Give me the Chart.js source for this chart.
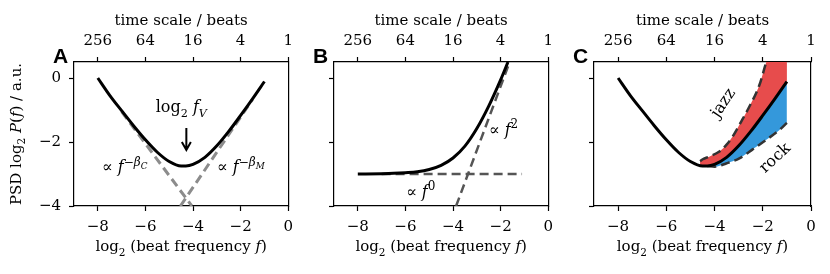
<!DOCTYPE html>
<html>
<head>
<meta charset="utf-8">
<script src="https://cdn.jsdelivr.net/npm/chart.js@4/dist/chart.umd.min.js"></script>
<style>
html, body { margin: 0; padding: 0; background: #fff; }
#wrap { position: relative; width: 830px; height: 274px; }
.panel { position: absolute; top: 0; height: 274px; }
</style>
</head>
<body>
<div id="wrap">
  <div class="panel" style="left:0;width:300px"><canvas id="chartA"></canvas></div>
  <div class="panel" style="left:300px;width:260px"><canvas id="chartB"></canvas></div>
  <div class="panel" style="left:560px;width:270px"><canvas id="chartC"></canvas></div>
</div>
<script>
// axes (x = log2 of beat frequency)
const xTicks = [-8, -6, -4, -2, 0]
const yTicks = [-4, -2, 0]
const beatLabels = ['256', '64', '16', '4', '1']

// panel A (and C): PSD with a minimum at f_V
const freqV = [-8, -7.5, -7, -6.5, -6, -5.5, -5, -4.5, -4.3, -4, -3.5, -3, -2.5, -2, -1.5, -1]
const psdV = [0, -0.54, -1.02, -1.49, -1.93, -2.32, -2.61, -2.75, -2.75, -2.70, -2.48, -2.12, -1.67, -1.17, -0.65, -0.11]
const lowAsymX = [-7, -4.05]
const lowAsymY = [-1.05, -4]
const highAsymX = [-4.53, -1.5]
const highAsymY = [-4, -0.67]

// panel B: flat then f^2
const freqB = [-8, -7, -6.5, -6, -5.5, -5, -4.5, -4, -3.5, -3, -2.5, -2, -1.69]
const psdB = [-3, -2.99, -2.98, -2.96, -2.93, -2.86, -2.73, -2.50, -2.13, -1.58, -0.88, -0.06, 0.5]
const flatX = [-7, -1.1]
const flatY = [-3, -3]
const steepX = [-3.87, -1.62]
const steepY = [-4, 0.5]

// panel C: jazz / rock variants
const jazzX = [-4.6, -4.49, -4.2, -3.8, -3.5, -3.25, -2.9, -2.56, -2.14, -1.87, -1.5, -1]
const jazzY = [-2.6, -2.54, -2.45, -2.3, -2.08, -1.83, -1.37, -0.9, -0.22, 0.46, 1.3, 2.5]
const rockX = [-4.3, -4, -3.52, -2.97, -2.42, -1.87, -1.32, -1]
const rockY = [-2.75, -2.77, -2.67, -2.51, -2.23, -1.94, -1.63, -1.4]

Chart.defaults.font.family = 'DejaVu Serif'
Chart.defaults.color = '#000'

const serif = { family: 'DejaVu Serif', size: 15 }
const minus = v => String(v).replace('-', '\u2212')
const pts = (xs, ys) => xs.map((x, i) => ({ x: x, y: ys[i] }))

function scalesFor(leftW, rightW, showY) {
  const grid = { drawOnChartArea: false, tickLength: 5, tickColor: '#000', tickWidth: 1.2 }
  const border = { color: '#000', width: 1.2 }
  return {
    x: {
      type: 'linear', position: 'bottom', min: -9, max: 0,
      afterBuildTicks: s => { s.ticks = xTicks.map(v => ({ value: v })) },
      afterFit: s => { s.height = 68 },
      ticks: { font: serif, color: '#000', padding: 7, maxRotation: 0, callback: v => minus(v) },
      grid: grid, border: border
    },
    x2: {
      type: 'linear', position: 'top', min: -9, max: 0,
      afterBuildTicks: s => { s.ticks = xTicks.map(v => ({ value: v })) },
      afterFit: s => { s.height = 62 },
      ticks: { font: serif, color: '#000', padding: 7, maxRotation: 0, callback: (v, i) => beatLabels[i] },
      title: { display: true, text: 'time scale / beats', font: serif, color: '#000', padding: { top: 12, bottom: 0 } },
      grid: grid, border: border
    },
    y: {
      type: 'linear', position: 'left', min: -4, max: 0.5,
      afterBuildTicks: s => { s.ticks = yTicks.map(v => ({ value: v })) },
      afterFit: s => { s.width = leftW },
      ticks: { display: showY, font: serif, color: '#000', padding: 8, callback: v => minus(v) },
      grid: grid, border: border
    },
    y2: {
      type: 'linear', position: 'right', min: -4, max: 0.5,
      afterFit: s => { s.width = rightW },
      ticks: { display: false },
      grid: { display: false },
      border: border
    }
  }
}

// text runs: [text, style]  '' roman, 'i' italic, '_' sub, '^' sup, '^_' sub of sup
const runStyle = {
  '': { it: false, sc: 1, dy: 0 },
  'i': { it: true, sc: 1, dy: 0 },
  '_': { it: false, sc: 0.7, dy: 0.3 },
  'i_': { it: true, sc: 0.7, dy: 0.3 },
  '^': { it: false, sc: 0.75, dy: -0.42 },
  'i^': { it: true, sc: 0.75, dy: -0.42 },
  'i^_': { it: true, sc: 0.55, dy: -0.2 }
}
function runFont(st, size) {
  return (st.it ? 'italic ' : '') + (size * st.sc).toFixed(1) + 'px "DejaVu Serif"'
}
function drawRuns(ctx, runs, x, y, size, anchor, rot, mid) {
  ctx.save()
  ctx.translate(x, y)
  if (rot) ctx.rotate(rot * Math.PI / 180)
  ctx.textAlign = 'left'
  ctx.textBaseline = mid ? 'middle' : 'alphabetic'
  let w = 0
  runs.forEach(r => { ctx.font = runFont(runStyle[r[1]], size); w += ctx.measureText(r[0]).width })
  let cx = anchor === 'center' ? -w / 2 : 0
  runs.forEach(r => {
    const st = runStyle[r[1]]
    ctx.font = runFont(st, size)
    ctx.fillText(r[0], cx, st.dy * size)
    cx += ctx.measureText(r[0]).width
  })
  ctx.restore()
}

const xTitle = [['log', ''], ['2', '_'], [' (beat frequency ', ''], ['f', 'i'], [')', '']]
const yTitle = [['PSD log', ''], ['2', '_'], [' ', ''], ['P', 'i'], ['(', ''], ['f', 'i'], [') / a.u.', '']]

function notesPlugin(letter, showY, notes) {
  return {
    id: 'notes',
    afterDraw(chart) {
      const ctx = chart.ctx, a = chart.chartArea
      const xs = chart.scales.x, ys = chart.scales.y
      ctx.save()
      ctx.fillStyle = '#000'
      ctx.strokeStyle = '#000'
      ctx.font = 'bold 21px "Liberation Sans"'
      ctx.textAlign = 'left'
      ctx.textBaseline = 'alphabetic'
      ctx.fillText(letter, a.left - 21, a.top + 1)
      drawRuns(ctx, xTitle, (a.left + a.right) / 2, 251, 15, 'center')
      if (showY) drawRuns(ctx, yTitle, 20.5, (a.top + a.bottom) / 2, 15, 'center', -90)
      notes.forEach(n => {
        const px = xs.getPixelForValue(n.x), py = ys.getPixelForValue(n.y)
        if (n.arrow) {
          const py2 = ys.getPixelForValue(n.y2)
          ctx.lineWidth = 2
          ctx.beginPath()
          ctx.moveTo(px, py); ctx.lineTo(px, py2)
          ctx.moveTo(px - 4.5, py2 - 8); ctx.lineTo(px, py2); ctx.lineTo(px + 4.5, py2 - 8)
          ctx.stroke()
        } else {
          drawRuns(ctx, n.runs, px, py, 16, n.anchor, n.rot, n.mid)
        }
      })
      ctx.restore()
    }
  }
}

function makePanel(id, letter, leftW, rightW, showY, datasets, notes) {
  return new Chart(document.getElementById(id), {
    type: 'line',
    data: { datasets: datasets },
    options: {
      responsive: true,
      maintainAspectRatio: false,
      animation: false,
      layout: { padding: 0 },
      elements: { point: { radius: 0 } },
      plugins: { legend: { display: false }, tooltip: { enabled: false } },
      scales: scalesFor(leftW, rightW, showY)
    },
    plugins: [notesPlugin(letter, showY, notes)]
  })
}

const solid = (xs, ys) => ({
  data: pts(xs, ys), borderColor: '#000', borderWidth: 3, fill: false,
  cubicInterpolationMode: 'monotone'
})
const dashed = (xs, ys, color, w) => ({
  data: pts(xs, ys), borderColor: color, borderWidth: w, borderDash: [9, 5], fill: false,
  cubicInterpolationMode: 'monotone'
})

makePanel('chartA', 'A', 74, 9, true, [
  solid(freqV, psdV),
  dashed(lowAsymX, lowAsymY, '#8c8c8c', 3),
  dashed(highAsymX, highAsymY, '#8c8c8c', 3)
], [
  { x: -4.49, y: -1.06, anchor: 'center', runs: [['log', ''], ['2', '_'], [' ', ''], ['f', 'i'], ['V', 'i_']] },
  { x: -4.28, y: -1.56, y2: -2.25, arrow: true },
  { x: -7.83, y: -2.95, anchor: 'left', runs: [['\u221d ', ''], ['f', 'i'], ['\u2212', '^'], ['\u03b2', 'i^'], ['C', 'i^_']] },
  { x: -3.0, y: -2.95, anchor: 'left', runs: [['\u221d ', ''], ['f', 'i'], ['\u2212', '^'], ['\u03b2', 'i^'], ['M', 'i^_']] }
])

makePanel('chartB', 'B', 34, 10, false, [
  solid(freqB, psdB),
  dashed(flatX, flatY, '#555', 2.5),
  dashed(steepX, steepY, '#555', 2.5)
], [
  { x: -2.5, y: -1.78, anchor: 'left', runs: [['\u221d ', ''], ['f', 'i'], ['2', '^']] },
  { x: -5.98, y: -3.72, anchor: 'left', runs: [['\u221d ', ''], ['f', 'i'], ['0', '^']] }
])

const jazz = dashed(jazzX, jazzY, '#333', 2.5)
jazz.fill = 0
jazz.backgroundColor = '#e74c4c'
const rock = dashed(rockX, rockY, '#333', 2.5)
rock.fill = 0
rock.backgroundColor = '#3498db'

makePanel('chartC', 'C', 34, 19, false, [
  solid(freqV, psdV),
  jazz,
  rock
], [
  { x: -3.63, y: -0.79, anchor: 'center', rot: -56, mid: true, runs: [['jazz', '']] },
  { x: -1.48, y: -2.51, anchor: 'center', rot: -43, mid: true, runs: [['rock', '']] }
])
</script>
</body>
</html>
